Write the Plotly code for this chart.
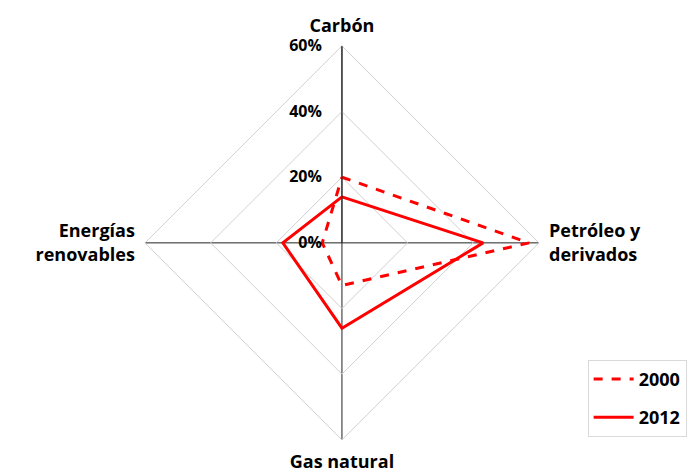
import plotly.graph_objects as go

categories = ["Carbón", "Petróleo y<br>derivados", "Gas natural", "Energías<br>renovables"]
values_2000 = [20, 57, 13, 6]
values_2012 = [14, 43, 26, 18]
radial_ticks = [0, 20, 40, 60]
radial_labels = ["0%", "20%", "40%", "60%"]

FONT = "Open Sans"

fig = go.Figure()
fig.add_trace(go.Scatterpolar(
    r=values_2000 + values_2000[:1], theta=categories + categories[:1],
    mode="lines", name="2000", legendgroup="a",
    line=dict(color="#FF0000", width=3, dash="dash"),
))
fig.add_trace(go.Scatterpolar(
    r=values_2012 + values_2012[:1], theta=categories + categories[:1],
    mode="lines", name="2012", legendgroup="b",
    line=dict(color="#FF0000", width=3),
))

fig.update_layout(
    width=695, height=474,
    margin=dict(l=0, r=0, t=0, b=0, autoexpand=False),
    paper_bgcolor="white",
    font=dict(family=FONT, size=16, color="black", weight="bold"),
    polar=dict(
        domain=dict(x=[0.197, 0.764], y=[0.089, 0.920]),
        gridshape="linear",
        bgcolor="white",
        radialaxis=dict(
            range=[0, 60], tickvals=radial_ticks, ticktext=radial_labels,
            angle=90, tickangle=90, side="counterclockwise",
            showline=True, linecolor="#222222", linewidth=1,
            gridcolor="#D0D0D0", gridwidth=1,
            ticks="outside", ticklen=14, tickcolor="rgba(0,0,0,0)",
            tickfont=dict(family=FONT, size=16, weight="bold"),
        ),
        angularaxis=dict(
            rotation=90, direction="clockwise",
            gridcolor="#222222", gridwidth=1,
            showline=True, linecolor="#D0D0D0", linewidth=1,
            ticks="outside", ticklen=6, tickcolor="rgba(0,0,0,0)",
            tickfont=dict(family=FONT, size=18, weight="bold"),
        ),
    ),
    legend=dict(
        x=0.834, y=0.258, xanchor="left", yanchor="top",
        bordercolor="#D9D9D9", borderwidth=1,
        font=dict(family=FONT, size=18, weight="bold"),
        itemwidth=40, tracegroupgap=12,
    ),
)

fig.write_html("out.html")
